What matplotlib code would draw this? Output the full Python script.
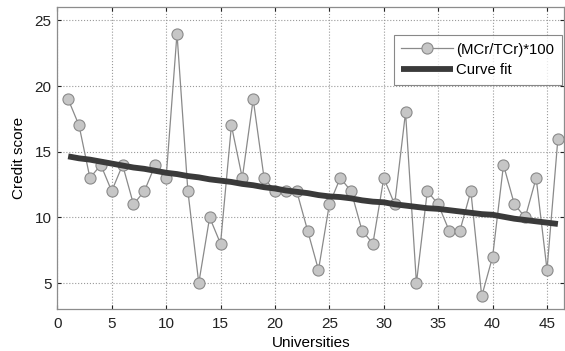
import matplotlib
matplotlib.use("Agg")
import matplotlib.pyplot as plt

universities = list(range(1, 47))
credit_score = [19, 17, 13, 14, 12, 14, 11, 12, 14, 13,
                24, 12, 5, 10, 8, 17, 13, 19, 13, 12,
                12, 12, 9, 6, 11, 13, 12, 9, 8, 13,
                11, 18, 5, 12, 11, 9, 9, 12, 4, 7,
                14, 11, 10, 13, 6, 16]
curve_fit = [14.65, 14.5, 14.4, 14.25, 14.1, 13.95, 13.8, 13.7, 13.55, 13.4,
             13.3, 13.15, 13.05, 12.9, 12.8, 12.7, 12.55, 12.45, 12.3, 12.2,
             12.05, 11.95, 11.85, 11.7, 11.6, 11.55, 11.45, 11.3, 11.2, 11.15,
             11.0, 10.9, 10.8, 10.7, 10.65, 10.55, 10.45, 10.35, 10.25, 10.2,
             10.05, 9.9, 9.8, 9.7, 9.6, 9.5]
xticks = [0, 5, 10, 15, 20, 25, 30, 35, 40, 45]
yticks = [5, 10, 15, 20, 25]

plt.rcParams['font.family'] = ['Liberation Sans', 'DejaVu Sans']

fig = plt.figure(figsize=(5.65, 3.51), dpi=100)
ax = fig.add_axes([0.1014, 0.1188, 0.8976, 0.8603])

ax.plot(universities, credit_score, '-o', color='#8a8a8a', lw=0.9,
        markerfacecolor='#c6c6c6', markeredgecolor='#8a8a8a',
        markeredgewidth=0.8, markersize=8, label='(MCr/TCr)*100', zorder=3)
ax.plot(universities, curve_fit, '-', color='#3a3a3a', lw=4.2,
        solid_capstyle='butt', label='Curve fit', zorder=4)

ax.set_xlim(0, 46.6)
ax.set_ylim(3, 26)
ax.set_xticks(xticks)
ax.set_yticks(yticks)
ax.tick_params(direction='in', length=3, labelsize=11, colors='#222222',
               top=True, right=True)
ax.tick_params(axis='x', pad=5.5)
ax.tick_params(axis='y', pad=4)
for s in ax.spines.values():
    s.set_color('#8c8c8c')
    s.set_linewidth(0.9)
ax.grid(True, linestyle=':', color='#9a9a9a', linewidth=0.8)
ax.set_axisbelow(True)

ax.set_xlabel('Universities', fontsize=11, labelpad=4)
ax.set_ylabel('Credit score', fontsize=11, labelpad=6)

leg = ax.legend(loc='upper right', bbox_to_anchor=(0.995, 0.908), borderaxespad=0,
                fontsize=10.7, frameon=True, fancybox=False, handlelength=3.5,
                borderpad=0.5, labelspacing=0.45, handletextpad=0.2)
leg.get_frame().set_edgecolor('#6a6a6a')
leg.get_frame().set_linewidth(0.8)

fig.savefig('out.png', dpi=100)
